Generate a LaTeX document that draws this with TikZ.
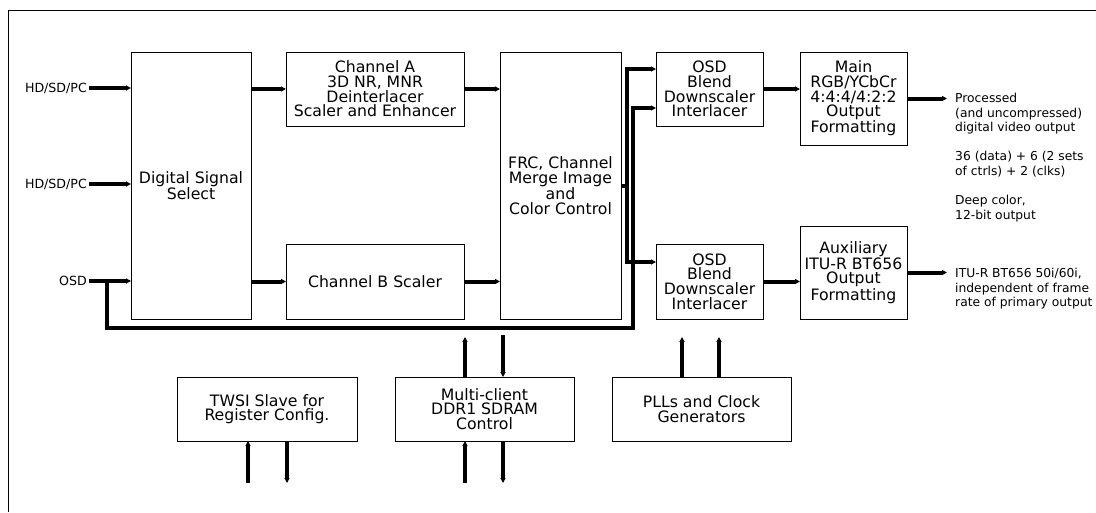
\documentclass[tikz,border=0pt]{standalone}
\usepackage{fontspec}
\setmainfont{DejaVu Sans}
\usetikzlibrary{arrows.meta, positioning}

\begin{document}
\begin{tikzpicture}[x=1pt, y=-1pt,
    block/.style={draw, line width=1pt, outer sep=0pt, inner sep=1pt, align=center, font=\fontsize{15.7}{14.6}\selectfont},
    lbl/.style={inner sep=2pt, font=\fontsize{12.6}{14.6}\selectfont},
    note/.style={inner sep=0pt, align=left, font=\fontsize{12.3}{14.6}\selectfont},
    rel/.style={-{Triangle[length=5pt, width=5pt]}, line width=4pt}
]
\useasboundingbox (0,0) rectangle (1096,512);
\draw[line width=1pt] (8,512) |- (1096,10);

% main video path
\node[block, minimum width=120pt, minimum height=267pt] (dss) at (191,185.5) {Digital Signal\\Select};
\node[block, minimum width=178pt, minimum height=74pt, below right=0pt and 35pt of dss.north east] (chA) {Channel A\\3D NR, MNR\\Deinterlacer\\Scaler and Enhancer};
\node[block, minimum width=178pt, minimum height=75pt, above right=0pt and 35pt of dss.south east] (chB) {Channel B Scaler};
\node[block, minimum width=121pt, minimum height=267pt, below right=0pt and 36pt of chA.north east] (frc) {FRC, Channel\\Merge Image\\and\\Color Control};
\node[block, minimum width=107pt, minimum height=74pt, below right=0pt and 35pt of frc.north east] (osdA) {OSD\\Blend\\Downscaler\\Interlacer};
\node[block, minimum width=107pt, minimum height=75pt, above right=0pt and 35pt of frc.south east] (osdB) {OSD\\Blend\\Downscaler\\Interlacer};
\node[block, minimum width=107pt, minimum height=93pt, below right=0pt and 37pt of osdA.north east] (main) {Main\\RGB/YCbCr\\4:4:4/4:2:2\\Output\\Formatting};
\node[block, minimum width=107pt, minimum height=93pt, above right=0pt and 37pt of osdB.south east] (aux) {Auxiliary\\ITU-R BT656\\Output\\Formatting};

% support blocks
\node[block, minimum width=180pt, minimum height=64pt] (twsi) at (267,409) {TWSI Slave for\\Register Config.};
\node[block, minimum width=179pt, minimum height=64pt, right=38pt of twsi] (ddr) {Multi-client\\DDR1 SDRAM\\Control};
\node[block, minimum width=179pt, minimum height=64pt, right=38pt of ddr] (pll) {PLLs and Clock\\Generators};

% inputs
\node[lbl, anchor=east] (hdA) at (89,88) {HD/SD/PC};
\node[lbl, anchor=east] (hdB) at (89,184) {HD/SD/PC};
\node[lbl, anchor=east] (osd) at (89,281) {OSD};
\draw[rel] (hdA) -- (hdA -| dss.west);
\draw[rel] (hdB) -- (hdB -| dss.west);
\draw[rel] (osd) -- (osd -| dss.west);

\draw[rel] (dss.east |- chA.west) -- (chA.west);
\draw[rel] (dss.east |- chB.west) -- (chB.west);
\draw[rel] (chA.east) -- (chA.east -| frc.west);
\draw[rel] (chB.east) -- (chB.east -| frc.west);

% split to both OSD blenders
\coordinate (split) at ([xshift=6pt]frc.east);
\draw[line width=4pt] (frc.east) -- (split);
\draw[rel] (split) |- ([yshift=20pt]osdA.west);
\draw[rel] (split) |- ([yshift=19.5pt]osdB.west);

% OSD bus
\coordinate (bus) at (633,328);
\draw[rel] ([xshift=18pt]osd.east) |- (bus) |- ([yshift=-19pt]osdA.west);

\draw[rel] (osdA.east) -- (osdA.east -| main.west);
\draw[rel] (osdB.east) -- (osdB.east -| aux.west);

% outputs
\coordinate (mainOut) at ([xshift=40pt]main.east);
\coordinate (auxOut) at ([xshift=40pt]aux.east);
\draw[rel] (main) -- (mainOut);
\draw[rel] (aux) -- (auxOut);
\node[note, anchor=north west] (mainNote) at (955,93) {Processed\\(and uncompressed)\\digital video output\\[14.6pt]36 (data) + 6 (2 sets\\of ctrls) + 2 (clks)\\[14.6pt]Deep color,\\12-bit output};
\node[note, anchor=north west] (auxNote) at (955,268) {ITU-R BT656 50i/60i,\\independent of frame\\rate of primary output};

% memory and control ports
\coordinate (ddrUp) at (465,337);
\coordinate (ddrDown) at (503,335);
\coordinate (ddrIn) at (465,483);
\coordinate (ddrOut) at (503,483);
\draw[rel] (ddrUp |- ddr.north) -- (ddrUp);
\draw[rel] (ddrDown) -- (ddrDown |- ddr.north);
\draw[rel] (ddrIn) -- (ddrIn |- ddr.south);
\draw[rel] (ddrOut |- ddr.south) -- (ddrOut);

\coordinate (twsiIn) at (248,483);
\coordinate (twsiOut) at (287,483);
\draw[rel] (twsiIn) -- (twsiIn |- twsi.south);
\draw[rel] (twsiOut |- twsi.south) -- (twsiOut);

\coordinate (pllA) at (682,337);
\coordinate (pllB) at (719,337);
\draw[rel] (pllA |- pll.north) -- (pllA);
\draw[rel] (pllB |- pll.north) -- (pllB);
\end{tikzpicture}
\end{document}
